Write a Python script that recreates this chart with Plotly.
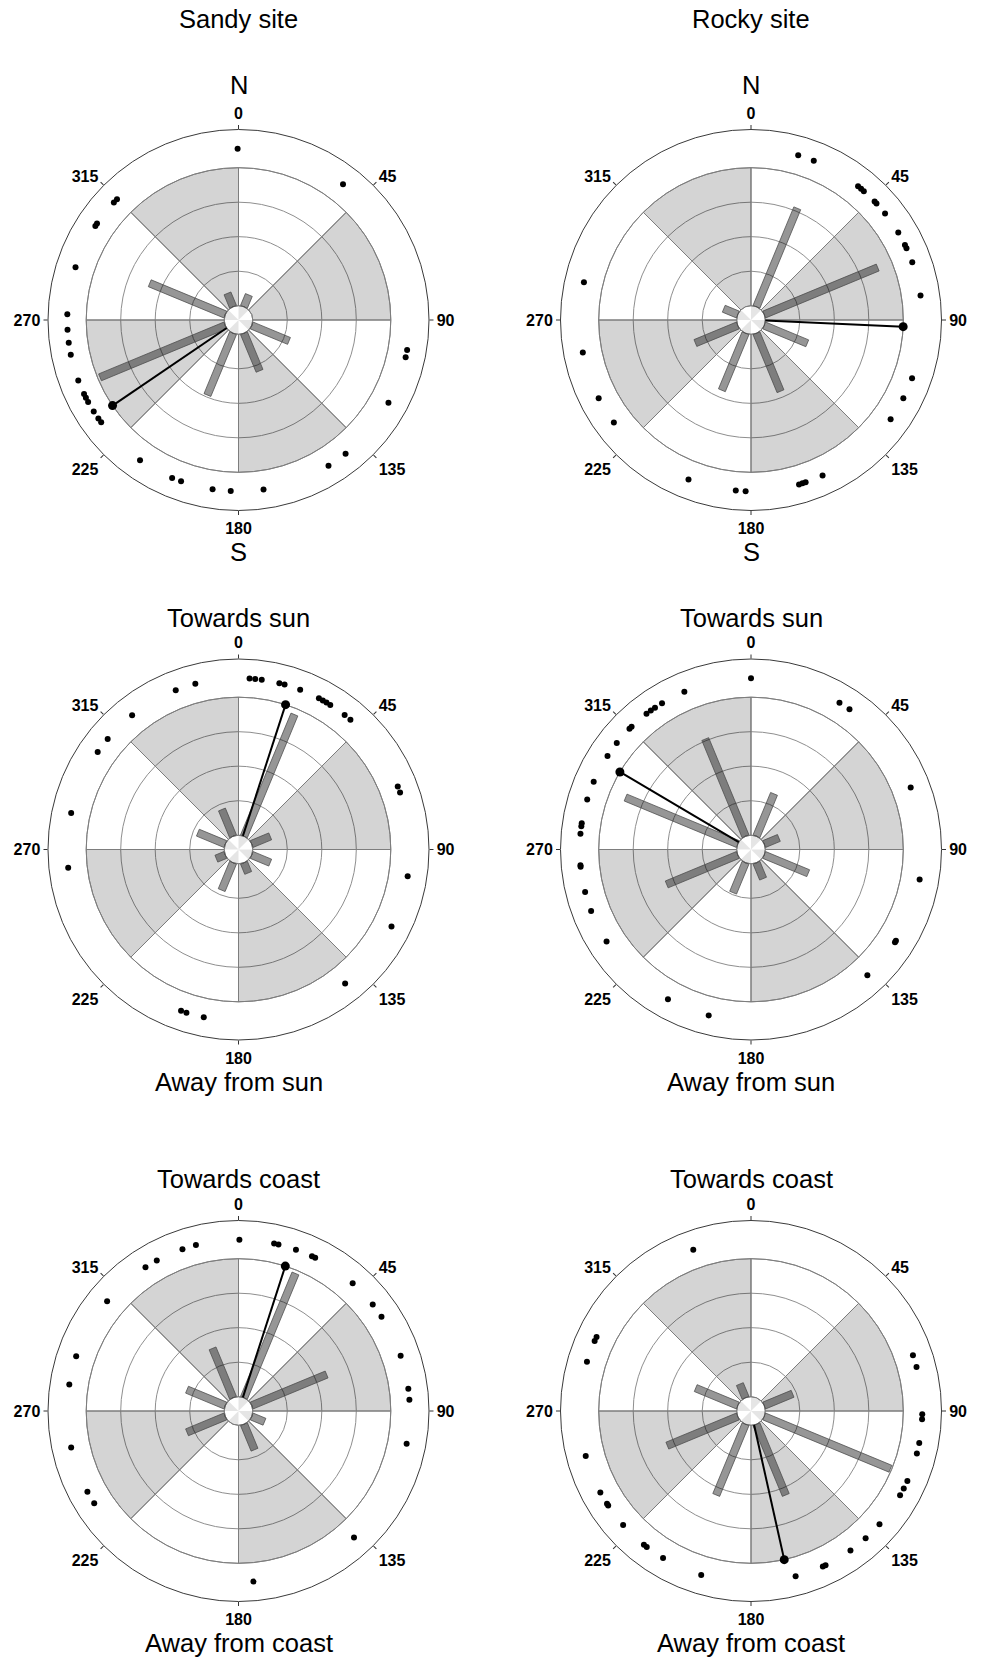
import numpy as np
import plotly.graph_objects as go

# ---------------- data ----------------
BIN_CENTRES = [22.5, 67.5, 112.5, 157.5, 202.5, 247.5, 292.5, 337.5]
SECTOR_SHADED = [False, True, False, True, False, True, False, True]
ANGLE_TICKS = [0, 45, 90, 135, 180, 225, 270, 315]
ANGLE_TICK_TEXT = ["0", "45", "90", "135", "180", "225", "270", "315"]
RING_VALUES = [0, 1, 2, 3, 4]
SECTOR_EXTENT = 4
MEAN_LENGTH = 4
DOT_RING = 4.55

sandy_dots = [359.7, 37.6, 314.8, 313.3, 304.3, 303.3, 287.9, 271.9, 266.7, 262.4,
              258.3, 249.3, 244.4, 243.0, 241.4, 237.7, 234.9, 233.3, 215.1, 202.8,
              199.6, 188.7, 182.6, 171.6, 148.3, 141.3, 118.9, 100.1, 102.6]
sandy_bars = [0.37, 0.0, 1.17, 1.18, 1.94, 3.93, 2.37, 0.42]
sandy_mean = 235.8

rocky_dots = [16.0, 21.5, 38.7, 40.0, 41.2, 46.2, 47.1, 51.5, 59.3, 64.0, 65.2, 70.3,
              81.8, 109.9, 117.2, 125.4, 155.3, 161.4, 162.5, 163.7, 181.8, 185.1,
              201.4, 233.2, 242.8, 259.1, 282.7]
rocky_bars = [3.09, 3.56, 1.35, 1.82, 1.79, 1.33, 0.44, 0.0]
rocky_mean = 92.5

sandy_sun_dots = [3.7, 5.6, 7.8, 13.8, 15.6, 21.1, 28.0, 29.5, 30.9, 32.4, 38.3, 40.8,
                  68.4, 70.6, 99.0, 116.7, 141.5, 191.7, 197.7, 199.6, 263.9, 282.3,
                  304.7, 310.2, 321.6, 338.5, 345.4]
sandy_sun_bars = [3.82, 0.58, 0.58, 0.32, 0.86, 0.28, 0.86, 0.84]
sandy_sun_mean = 18.0

rocky_sun_dots = [0.0, 31.1, 35.1, 68.8, 100.1, 122.2, 122.8, 137.2, 194.3, 209.0,
                  237.5, 249.0, 255.6, 264.2, 264.7, 275.3, 277.8, 278.8, 287.0, 293.3,
                  303.1, 308.4, 314.8, 315.8, 322.4, 324.2, 325.9, 328.7, 337.1]
rocky_sun_bars = [1.33, 0.46, 1.38, 0.50, 0.94, 2.23, 3.52, 3.05]
rocky_sun_mean = 300.6

sandy_coast_dots = [0.3, 12.0, 13.5, 19.6, 25.4, 26.6, 41.8, 51.6, 56.6, 71.2, 82.5,
                    86.2, 101.0, 137.6, 175.0, 237.4, 241.9, 257.7, 278.9, 288.6,
                    309.9, 327.1, 331.5, 340.9, 345.6]
sandy_coast_bars = [3.90, 2.35, 0.40, 0.80, 0.0, 1.20, 1.20, 1.55]
sandy_coast_mean = 17.9

rocky_coast_dots = [340.3, 71.0, 75.1, 91.1, 92.8, 100.8, 104.4, 114.1, 116.9, 119.5,
                    131.4, 138.0, 144.5, 154.2, 155.2, 164.9, 196.9, 210.9, 217.5,
                    218.7, 228.3, 236.5, 237.2, 241.6, 254.8, 286.7, 294.1, 295.6]
rocky_coast_bars = [0.0, 0.89, 3.96, 2.22, 2.22, 2.21, 1.32, 0.43]
rocky_coast_mean = 167.4

COLUMN_TITLES = ["Sandy site", "Rocky site"]
ROW_TOP_LABELS = ["N", "Towards sun", "Towards coast"]
ROW_BOTTOM_LABELS = ["S", "Away from sun", "Away from coast"]

# ---------------- layout geometry ----------------
W, H = 982, 1658
R_PX = 190.5           # outer circle radius (px)
HOLE_PX = 14.3         # centre disc radius (px)
RING_PX = 34.5         # px per radial unit
R0 = -HOLE_PX / RING_PX
RMAX = (R_PX - HOLE_PX) / RING_PX
COL_X = [238.5, 751]
ROW_Y = [320, 849.5, 1411]
BAR_HALF_W = 3.7

panels = [
    (0, 0, sandy_dots, sandy_bars, sandy_mean),
    (0, 1, rocky_dots, rocky_bars, rocky_mean),
    (1, 0, sandy_sun_dots, sandy_sun_bars, sandy_sun_mean),
    (1, 1, rocky_sun_dots, rocky_sun_bars, rocky_sun_mean),
    (2, 0, sandy_coast_dots, sandy_coast_bars, sandy_coast_mean),
    (2, 1, rocky_coast_dots, rocky_coast_bars, rocky_coast_mean),
]

FONT = "Liberation Sans, Arial, Helvetica, sans-serif"


def bar_outline(theta, length):
    """Rectangle of constant pixel width along direction theta, in data coords."""
    rho_in = HOLE_PX
    rho_out = HOLE_PX + length * RING_PX
    rs, ts = [], []
    for rho, side in [(rho_in, -1), (rho_out, -1), (rho_out, 1), (rho_in, 1), (rho_in, -1)]:
        rp = np.hypot(rho, BAR_HALF_W)
        rs.append(rp / RING_PX + R0)
        ts.append(theta + side * np.degrees(np.arctan(BAR_HALF_W / rho)))
    return rs, ts


fig = go.Figure()
layout_polars = {}
annotations = []

for i, (row, col, dots, bars, mean) in enumerate(panels):
    name = "polar" if i == 0 else f"polar{i + 1}"
    sub = name
    cx, cy = COL_X[col], ROW_Y[row]
    layout_polars[name] = dict(
        domain=dict(x=[(cx - R_PX) / W, (cx + R_PX) / W],
                    y=[1 - (cy + R_PX) / H, 1 - (cy - R_PX) / H]),
        bgcolor="white",
        bargap=0,
        angularaxis=dict(
            rotation=90, direction="clockwise",
            tickmode="array", tickvals=ANGLE_TICKS, ticktext=ANGLE_TICK_TEXT,
            ticks="outside", ticklen=4, tickcolor="#333333", tickwidth=1,
            showline=True, linecolor="#3a3a3a", linewidth=1,
            showgrid=False,
            tickfont=dict(family=FONT, size=16, color="black", weight="bold"),
        ),
        radialaxis=dict(
            range=[R0, RMAX], tickmode="array", tickvals=RING_VALUES,
            showticklabels=False, ticks="", showline=False,
            showgrid=True, gridcolor="#8f8f8f", gridwidth=1,
        ),
    )

    # centre disc pattern
    fig.add_trace(go.Barpolar(
        theta=BIN_CENTRES, r=[-R0] * len(BIN_CENTRES), base=R0, width=45,
        marker=dict(color=["rgba(0,0,0,0.10)" if not s else "rgba(0,0,0,0)" for s in SECTOR_SHADED],
                    line=dict(width=0)),
        subplot=sub, showlegend=False, hoverinfo="skip"))

    # shaded sectors
    fig.add_trace(go.Barpolar(
        theta=BIN_CENTRES, r=[SECTOR_EXTENT] * len(BIN_CENTRES), base=0, width=45,
        marker=dict(color=["rgba(0,0,0,0.17)" if s else "rgba(0,0,0,0)" for s in SECTOR_SHADED],
                    line=dict(color="#7d7d7d", width=1)),
        subplot=sub, showlegend=False, hoverinfo="skip"))

    # histogram bars
    for th, v in zip(BIN_CENTRES, bars):
        if v <= 0:
            continue
        rs, ts = bar_outline(th, v)
        fig.add_trace(go.Scatterpolar(
            r=rs, theta=ts, mode="lines", fill="toself",
            fillcolor="rgba(0,0,0,0.41)",
            line=dict(color="rgba(75,75,75,0.95)", width=0.8),
            subplot=sub, showlegend=False, hoverinfo="skip"))

    # mean vector
    fig.add_trace(go.Scatterpolar(
        r=[0, MEAN_LENGTH], theta=[mean, mean], mode="lines",
        line=dict(color="black", width=2),
        subplot=sub, showlegend=False, hoverinfo="skip"))
    fig.add_trace(go.Scatterpolar(
        r=[MEAN_LENGTH], theta=[mean], mode="markers",
        marker=dict(color="black", size=9),
        subplot=sub, showlegend=False, hoverinfo="skip"))

    # individual observations
    fig.add_trace(go.Scatterpolar(
        r=[DOT_RING] * len(dots), theta=dots, mode="markers",
        marker=dict(color="black", size=6),
        subplot=sub, showlegend=False, hoverinfo="skip"))

    # top / bottom labels
    annotations.append(dict(text=ROW_TOP_LABELS[row], x=cx / W,
                            y=1 - (85 if row == 0 else cy - 232) / H,
                            xref="paper", yref="paper", showarrow=False,
                            xanchor="center", yanchor="middle",
                            font=dict(family=FONT, size=25.5, color="black")))
    annotations.append(dict(text=ROW_BOTTOM_LABELS[row], x=cx / W,
                            y=1 - (cy + 232) / H,
                            xref="paper", yref="paper", showarrow=False,
                            xanchor="center", yanchor="middle",
                            font=dict(family=FONT, size=25.5, color="black")))

for col, t in enumerate(COLUMN_TITLES):
    annotations.append(dict(text=t, x=COL_X[col] / W, y=1 - 19 / H,
                            xref="paper", yref="paper", showarrow=False,
                            xanchor="center", yanchor="middle",
                            font=dict(family=FONT, size=25.5, color="black")))

fig.update_layout(
    width=W, height=H, autosize=False,
    margin=dict(l=0, r=0, t=0, b=0),
    paper_bgcolor="white", plot_bgcolor="white",
    showlegend=False,
    annotations=annotations,
    **layout_polars,
)

fig.write_html("out.html",
               config={"displayModeBar": False},
               post_script="document.body.style.margin='0';"
                           "document.body.style.padding='0';"
                           "document.body.style.overflow='hidden';")
